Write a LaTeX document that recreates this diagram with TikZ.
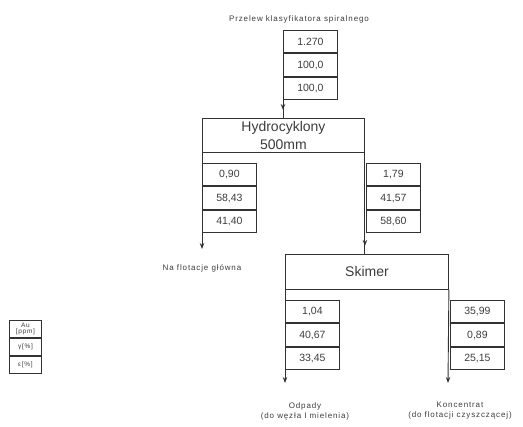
\documentclass[tikz,border=0pt]{standalone}
\usepackage{fontspec}
\setmainfont{Liberation Sans}
\newfontfamily\labfont[LetterSpace=11]{Liberation Sans}
\usetikzlibrary{arrows.meta,positioning,decorations.markings}
\definecolor{inkgray}{RGB}{50,50,50}
\definecolor{txtgray}{RGB}{60,60,60}
\tikzset{
  cell/.style={draw=inkgray, line width=0.9pt, minimum width=54pt, minimum height=22.5pt,
               inner sep=0pt, text=txtgray, font=\fontsize{10.5}{12}\selectfont},
  unit/.style={draw=inkgray, line width=0.9pt, inner sep=0pt, align=center,
               text=txtgray, font=\fontsize{14}{18}\selectfont},
  lab/.style={text=txtgray, align=center, font=\labfont\fontsize{8}{10}\selectfont},
  legcell/.style={cell, minimum width=32pt, minimum height=17pt, align=center,
                  font=\labfont\fontsize{6.5}{6.5}\selectfont},
  flowend/.style={inkgray, line width=0.9pt, -{Stealth[length=6pt,width=4.5pt]}},
  flowmid/.style={inkgray, line width=0.9pt, postaction={decorate, decoration={markings,
      mark=at position #1 with {\arrow{Stealth[length=6pt,width=4.5pt]}}}}},
}

\begin{document}
\begin{tikzpicture}[x=1pt, y=-1pt]
  \useasboundingbox (0,0) rectangle (523,427);
  % feed
  \node[lab] (feed) at (299,19) {Przelew klasyfikatora spiralnego};
  \node[cell, anchor=north west] (f1) at (283,30) {1.270};
  \node[cell, below=0pt of f1] (f2) {100,0};
  \node[cell, below=0pt of f2] (f3) {100,0};
  % units
  \node[unit, minimum width=162pt, minimum height=34pt, anchor=north west] (hc) at (202,118)
       {Hydrocyklony\\500mm};
  \node[unit, minimum width=163pt, minimum height=35pt, anchor=north west] (sk) at (285,254)
       {Skimer};
  \draw[flowmid=0.55] (f3.south west) -- (f3.south west |- hc.north);
  \draw[flowmid=0.92] (hc.south east) -- (hc.south east |- sk.north);
  % hydrocyclone overflow
  \coordinate (hcout) at (202,249);
  \draw[flowend] (hc.south west) -- (hcout);
  \node[cell, anchor=north west] (a1) at (202,163) {0,90};
  \node[cell, below=0pt of a1] (a2) {58,43};
  \node[cell, below=0pt of a2] (a3) {41,40};
  \node[lab] (flot) at (202,268) {Na flotacje główna};
  % hydrocyclone underflow
  \node[cell, anchor=north west] (b1) at (366,163) {1,79};
  \node[cell, below=0pt of b1] (b2) {41,57};
  \node[cell, below=0pt of b2] (b3) {58,60};
  % skimer products
  \coordinate (skout1) at (285,383);
  \coordinate (skout2) at (448,383);
  \draw[flowend] (sk.south west) -- (skout1);
  \draw[flowend] (sk.south east) -- (skout2);
  \node[cell, anchor=north west] (c1) at (285,300) {1,04};
  \node[cell, below=0pt of c1] (c2) {40,67};
  \node[cell, below=0pt of c2] (c3) {33,45};
  \node[cell, anchor=north west] (d1) at (450,300) {35,99};
  \node[cell, below=0pt of d1] (d2) {0,89};
  \node[cell, below=0pt of d2] (d3) {25,15};
  \node[lab] (odp) at (305,411) {Odpady\\(do węzła I mielenia)};
  \node[lab] (konc) at (460,411) {Koncentrat\\(do flotacji czyszczącej)};
  % legend
  \node[legcell, anchor=north west] (g1) at (9,320) {Au\\{}[ppm]};
  \node[legcell, below=0pt of g1] (g2) {γ[\%]};
  \node[legcell, below=0pt of g2] (g3) {ε[\%]};
\end{tikzpicture}
\end{document}
